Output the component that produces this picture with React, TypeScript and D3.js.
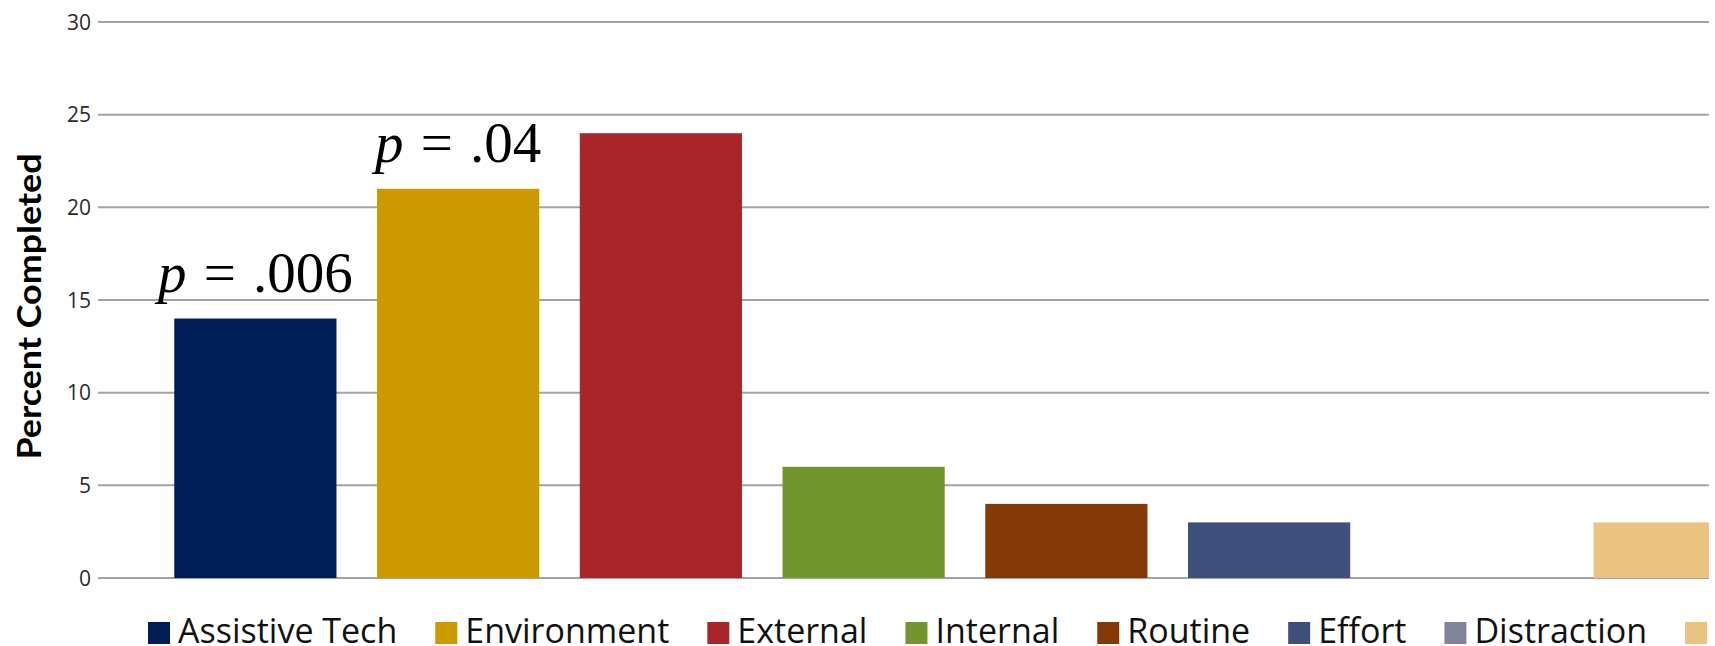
import React, { useEffect, useRef } from 'react';
import * as d3 from 'd3';

// Share of tasks completed, by strategy type
const categories = ['Assistive Tech', 'Environment', 'External', 'Internal', 'Routine', 'Effort', 'Distraction', ''];
const values = [14, 21, 24, 6, 4, 3, 0, 3];
const barColors = ['#001c54', '#cc9a00', '#a8262a', '#739530', '#843a08', '#3d4f7a', '#80849a', '#ebc382'];
const pValues: (string | null)[] = ['.006', '.04', null, null, null, null, null, null];
const yTicks = [0, 5, 10, 15, 20, 25, 30];
const yTitle = 'Percent Completed';

const W = 1715;
const H = 646;
const plot = { left: 98, right: 1709, top: 22, bottom: 578 };
const sansFont = '"Open Sans", Carlito, Calibri, sans-serif';

export default function App() {
  const ref = useRef<SVGSVGElement | null>(null);

  useEffect(() => {
    document.body.style.margin = '0';
    const svg = d3.select(ref.current);
    svg.selectAll('*').remove();

    const y = d3.scaleLinear().domain([0, 30]).range([plot.bottom, plot.top]);
    const x = d3
      .scaleBand<string>()
      .domain(categories)
      .range([154, 1776])
      .paddingInner(0.2)
      .paddingOuter(0.1);

    svg
      .append('defs')
      .append('clipPath')
      .attr('id', 'plot-clip')
      .append('rect')
      .attr('x', plot.left)
      .attr('y', 0)
      .attr('width', plot.right - plot.left)
      .attr('height', H);

    // horizontal gridlines
    svg
      .append('g')
      .selectAll('line')
      .data(yTicks)
      .join('line')
      .attr('x1', plot.left)
      .attr('x2', plot.right)
      .attr('y1', (d) => y(d))
      .attr('y2', (d) => y(d))
      .attr('stroke', '#a3a3a3')
      .attr('stroke-width', 2);

    // tick labels
    svg
      .append('g')
      .selectAll('text')
      .data(yTicks)
      .join('text')
      .attr('x', 91)
      .attr('y', (d) => y(d))
      .attr('dy', '0.36em')
      .attr('text-anchor', 'end')
      .attr('font-family', sansFont)
      .attr('font-size', 21)
      .attr('fill', '#2b2b2b')
      .text((d) => String(d));

    // axis title
    svg
      .append('text')
      .attr('transform', `translate(41, ${(153 + 460) / 2}) rotate(-90)`)
      .attr('text-anchor', 'middle')
      .attr('font-family', 'Lato, "Open Sans", sans-serif')
      .attr('font-weight', 700)
      .attr('font-size', 33)
      .attr('fill', '#000')
      .attr('textLength', 306)
      .attr('lengthAdjust', 'spacingAndGlyphs')
      .text(yTitle);

    // bars
    const rows = categories.map((c, i) => ({ c, v: values[i], color: barColors[i], p: pValues[i] }));
    svg
      .append('g')
      .attr('clip-path', 'url(#plot-clip)')
      .selectAll('rect')
      .data(rows.filter((r) => r.v > 0))
      .join('rect')
      .attr('x', (d) => x(d.c) as number)
      .attr('y', (d) => y(d.v))
      .attr('width', x.bandwidth())
      .attr('height', (d) => y(0) - y(d.v))
      .attr('fill', (d) => d.color);

    // significance annotations
    const pg = svg
      .append('g')
      .selectAll('text')
      .data(rows.filter((r) => r.p))
      .join('text')
      .attr('x', (d) => (x(d.c) as number) + x.bandwidth() / 2)
      .attr('y', (d) => y(d.v) - 27)
      .attr('text-anchor', 'middle')
      .attr('font-family', '"Liberation Serif", "DejaVu Serif", serif')
      .attr('font-size', 57)
      .attr('fill', '#000');
    pg.append('tspan').attr('font-style', 'italic').text('p');
    pg.append('tspan').attr('dx', 3).text(' = ');
    pg.append('tspan').attr('dx', 3).text((d) => d.p as string);

    // legend
    const legend = svg.append('g');
    let cursor = 148;
    rows.forEach((r) => {
      legend
        .append('rect')
        .attr('x', cursor)
        .attr('y', 622)
        .attr('width', 22)
        .attr('height', 22)
        .attr('fill', r.color);
      const t = legend
        .append('text')
        .attr('x', cursor + 30)
        .attr('y', 643)
        .attr('font-family', sansFont)
        .attr('font-size', 34)
        .attr('fill', '#111')
        .text(r.c);
      const w = (t.node() as SVGTextElement).getComputedTextLength();
      cursor += 30 + w + 38;
    });
  }, []);

  return <svg ref={ref} width={W} height={H} style={{ display: 'block', background: '#fff' }} />;
}
